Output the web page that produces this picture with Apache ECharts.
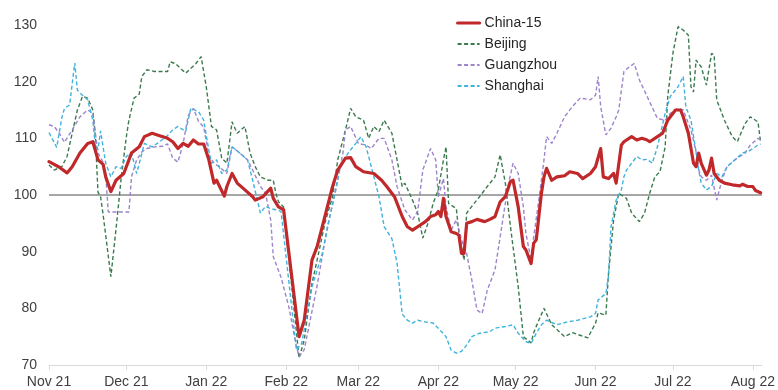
<!DOCTYPE html>
<html>
<head>
<meta charset="utf-8">
<script src="https://cdn.jsdelivr.net/npm/echarts@6/dist/echarts.min.js"></script>
<style>
  html, body { margin: 0; padding: 0; background: #fff; }
  #chart { width: 778px; height: 390px; }
</style>
</head>
<body>
<div id="chart"></div>
<script>
// x values are day offsets counted from 1 Nov 2021
const monthTicks = [0, 30, 61, 92, 120, 151, 181, 212, 242, 273];
const monthLabels = ['Nov 21', 'Dec 21', 'Jan 22', 'Feb 22', 'Mar 22', 'Apr 22', 'May 22', 'Jun 22', 'Jul 22', 'Aug 22'];
const yTicks = [70, 80, 90, 100, 110, 120, 130];

const china15 = [[0,105.9],[2,105.4],[4,104.9],[7,103.9],[9,105],[12,107.4],[15,109.1],[17,109.4],[19,106.2],[21,105.4],[22,103.2],[24,100.6],[26,102.6],[29,103.8],[32,107.4],[35,108.5],[37,110.3],[40,110.9],[42,110.6],[46,110],[48,109.4],[50,108.2],[52,109.1],[54,108.6],[56,109.7],[58,109],[60,109],[62,106.2],[64,102.1],[65,102.6],[68,99.8],[69,101.5],[71,103.8],[73,102.1],[76,100.9],[79,99.7],[80,99.1],[83,99.7],[86,101.2],[87,99.4],[89,97.9],[91,97.4],[97,75],[99,77.9],[102,88.5],[104,90.9],[107,96.2],[110,101.5],[112,104.4],[115,106.5],[117,106.6],[119,105],[122,104.1],[126,103.8],[129,102.6],[131,101.5],[134,99.7],[137,96.2],[139,94.4],[141,93.8],[143,94.4],[146,95.3],[148,96.2],[150,96.5],[151,97.1],[152,96.2],[153,99.4],[154,96.2],[156,93.5],[158,93.2],[159,92.9],[160,89.7],[161,89.7],[162,95],[164,95.3],[166,95.7],[169,95.3],[171,95.7],[173,96.2],[175,98.8],[177,99.7],[179,102.4],[180,102.6],[182,97.9],[184,90.9],[185,90.3],[187,87.9],[188,91.5],[189,92.1],[191,100.3],[192,103.2],[193,104.7],[195,102.6],[197,103.2],[200,103.4],[202,104.1],[205,103.8],[207,102.9],[210,103.8],[212,105],[214,108.2],[215,103.2],[217,102.9],[219,103.8],[220,102.1],[222,108.8],[223,109.4],[226,110.3],[228,109.7],[230,110],[232,109.7],[233,109.4],[236,110.3],[238,110.9],[240,113.2],[243,115],[245,115],[246,113.8],[248,110.9],[250,105.6],[251,105],[252,107.4],[253,105.6],[255,103.5],[256,104.4],[257,106.5],[258,103.8],[260,102.6],[262,102.1],[265,101.8],[268,101.6],[269,101.9],[271,101.5],[273,101.5],[274,100.8],[276,100.4]];

const beijing = [[0,105.3],[2,104.4],[5,105],[7,106.8],[9,110.9],[11,115],[13,117.4],[15,117.1],[17,115],[18,110.3],[19,100.5],[20,99.7],[21,96.5],[24,85.6],[26,94],[27,98.5],[28,103],[30,110.3],[31,113.2],[33,117.1],[35,117.8],[36,120.9],[38,122.1],[41,121.8],[46,121.8],[47,123.5],[49,123.2],[53,121.5],[57,123.2],[59,124.4],[61,119.1],[63,112.1],[65,111.5],[67,106.5],[69,105.6],[71,112.9],[73,110.9],[76,112.1],[78,107.4],[80,105],[82,103.2],[85,102.6],[87,102.6],[88,100.3],[89,98.8],[91,97.9],[97,71.2],[99,74.4],[102,84.4],[104,88.5],[107,95],[110,99.7],[112,106.2],[115,111.5],[117,115.3],[119,113.8],[122,113.2],[124,110],[126,112.1],[128,111.2],[130,113.2],[133,110.9],[135,106.2],[137,101.5],[138,102.1],[141,99.1],[143,96.8],[145,92.4],[147,95],[149,98.5],[151,100.9],[153,106.2],[154,108.5],[155,98.5],[158,97.6],[159,93.2],[161,88.5],[162,96.8],[164,98],[167,99.7],[170,101.5],[173,103.2],[175,107.1],[177,102.1],[179,94.4],[182,83.8],[184,75],[187,73.9],[188,75.7],[190,77.9],[192,80],[195,77.1],[200,75],[203,75.7],[209,74.8],[212,77.4],[213,79.2],[216,78.8],[217,86],[219,95.6],[221,100.3],[224,99.4],[226,96.8],[229,95.3],[231,96.8],[233,100.3],[235,103.2],[237,104.1],[239,108.5],[240,117.4],[242,125],[244,129.7],[246,129.1],[248,128.2],[249,119.1],[250,118.2],[251,123.8],[253,122.6],[255,119.4],[257,125],[258,124.7],[259,116.8],[262,113.2],[265,110.3],[267,109.4],[270,112.6],[272,113.8],[275,112.9],[276,109.4]];

const guangzhou = [[0,112.4],[2,112.1],[4,110.9],[6,109.3],[9,111.5],[12,113.8],[15,115],[17,114.4],[19,107.4],[21,105.8],[22,103.5],[23,97],[31,97],[32,103.2],[34,106.2],[36,107.6],[38,108.2],[41,108.5],[44,108.6],[46,109],[48,106.5],[50,105.8],[52,109],[54,114],[56,115.3],[58,113],[60,112],[62,107],[64,105.6],[66,105],[69,103.8],[71,108.5],[74,107.4],[77,106.2],[79,104.4],[82,101.5],[84,100.3],[86,95.6],[87,89.1],[90,85.5],[93,80.3],[96,73.2],[97,71.5],[99,72.7],[104,84],[108,94.4],[111,100.3],[114,107.4],[115,111.5],[117,112.1],[120,109.1],[123,108.8],[125,108.2],[128,110],[130,110],[133,106.2],[135,101.5],[138,97.4],[141,95.6],[143,97.1],[145,104.4],[148,108.2],[150,106.2],[151,99.7],[153,102.9],[154,97.9],[156,93.8],[158,95.6],[160,92.1],[162,89.7],[164,85],[166,79.7],[168,79.1],[170,83.2],[173,86.8],[175,92.6],[178,101.5],[180,105.6],[182,103.8],[184,97.9],[185,93.2],[187,88.5],[188,92.6],[190,99.1],[192,106.2],[193,110.3],[195,109.1],[197,110.9],[200,113.8],[203,115.6],[206,117.1],[210,116.8],[212,117.6],[213,120.9],[214,115.6],[216,110.6],[218,111.8],[220,113.8],[221,115],[223,121.8],[225,122.6],[227,123.2],[229,120.3],[232,117.4],[236,113.5],[239,113.2],[241,114.4],[244,115.3],[246,115],[249,111.5],[251,107.6],[252,104.4],[253,103.2],[255,102.6],[257,103.5],[259,99.1],[261,102.6],[263,105],[266,106.2],[270,107.4],[272,108.8],[275,110],[276,109.7]];

const shanghai = [[0,111],[3,108.4],[5,113.7],[6,115.3],[8,115.9],[10,123.3],[11,118.5],[13,117.6],[15,116.8],[17,113.2],[18,108.5],[19,108],[20,111.3],[22,105.6],[24,103.2],[26,105],[28,104.7],[30,106.8],[32,107.4],[34,103.8],[37,109.1],[40,108.5],[42,109.1],[46,110.5],[48,111.5],[50,112.1],[53,111.2],[55,115.3],[58,114.7],[60,113.2],[62,107.9],[63,105.6],[65,106.2],[67,103.8],[69,104.4],[71,108.5],[74,107.4],[77,106.2],[79,102.6],[82,96.8],[84,98],[86,97.6],[88,97.4],[90,97.1],[96,72.6],[98,73.8],[102,83.8],[106,89.7],[110,98.5],[113,105],[116,107.4],[119,109.1],[121,110.3],[123,108.5],[125,105],[128,99.7],[130,94.4],[133,92.3],[135,88],[137,79],[139,77.9],[141,77.4],[143,77.9],[146,77.6],[149,77.4],[151,76.5],[154,75],[156,72.6],[158,72.1],[160,72.4],[162,73.5],[164,75],[167,75.6],[171,75.9],[173,76.5],[177,76.8],[180,77.1],[182,75.6],[185,74.1],[187,73.8],[189,75.6],[191,77.1],[193,77.9],[197,77.1],[201,77.6],[205,77.9],[210,78.5],[212,79.1],[213,81.5],[216,82.6],[217,85.6],[218,94.4],[220,99.1],[222,100.9],[223,103.2],[224,104.4],[226,105.6],[228,106.8],[230,106.2],[232,106.3],[234,105.6],[236,108.5],[239,114.4],[241,117.4],[244,119.1],[246,120.9],[247,115.6],[249,113.2],[251,107.6],[252,104.4],[253,102.1],[255,100.9],[257,101.5],[259,103.8],[261,103.2],[263,105],[266,106.2],[269,107.4],[272,107.9],[275,108.8],[276,109]];

const baseline = 100;

const FONT = "'Liberation Sans', Arial, sans-serif";
const CHINA_COLOR = '#c0282a';

function dashed(name, data, color) {
  return {
    name: name,
    type: 'line',
    data: data,
    showSymbol: false,
    symbol: 'none',
    smooth: false,
    lineStyle: { color: color, width: 1.4, type: [4, 2.5] },
    itemStyle: { color: color },
    z: 2
  };
}

const chart = echarts.init(document.getElementById('chart'), null, { renderer: 'canvas' });

chart.setOption({
  animation: false,
  backgroundColor: '#ffffff',
  grid: { left: 49, right: 15, top: 25, bottom: 25, containLabel: false },
  legend: {
    orient: 'vertical',
    left: 451,
    top: 11,
    itemWidth: 22,
    itemHeight: 14,
    itemGap: 7,
    // legend keys show only the line stroke, no point marker
    itemStyle: { opacity: 0 },
    textStyle: { fontFamily: FONT, fontSize: 14, color: '#262626' },
    data: [
      { name: 'China-15', lineStyle: { width: 3.2, color: CHINA_COLOR } },
      'Beijing', 'Guangzhou', 'Shanghai'
    ]
  },
  xAxis: {
    type: 'value',
    min: 0,
    max: 276.5,
    splitLine: { show: false },
    axisLine: { show: true, lineStyle: { color: '#d9d9d9', width: 1 } },
    axisTick: { show: true, customValues: monthTicks, length: 5, lineStyle: { color: '#d9d9d9' } },
    axisLabel: {
      customValues: monthTicks,
      formatter: function (v) {
        const i = monthTicks.indexOf(v);
        return i >= 0 ? monthLabels[i] : '';
      },
      fontFamily: FONT,
      fontSize: 14,
      color: '#404040',
      margin: 10
    }
  },
  yAxis: {
    type: 'value',
    min: yTicks[0],
    max: yTicks[yTicks.length - 1],
    interval: 10,
    splitLine: { show: false },
    axisLine: { show: false },
    axisTick: { show: false },
    axisLabel: { fontFamily: FONT, fontSize: 14, color: '#404040', margin: 12 }
  },
  series: [
    Object.assign(dashed('Beijing', beijing, '#3b7a4e'), {
      markLine: {
        silent: true,
        symbol: ['none', 'none'],
        label: { show: false },
        lineStyle: { color: '#a6a6a6', width: 2, type: 'solid' },
        data: [{ yAxis: baseline }],
        z: 1
      }
    }),
    dashed('Guangzhou', guangzhou, '#9d84cc'),
    dashed('Shanghai', shanghai, '#3fb2de'),
    {
      name: 'China-15',
      type: 'line',
      data: china15,
      showSymbol: false,
      symbol: 'none',
      lineStyle: { color: CHINA_COLOR, width: 3.2, join: 'round', cap: 'round' },
      itemStyle: { color: CHINA_COLOR },
      z: 5
    }
  ]
});
</script>
</body>
</html>
